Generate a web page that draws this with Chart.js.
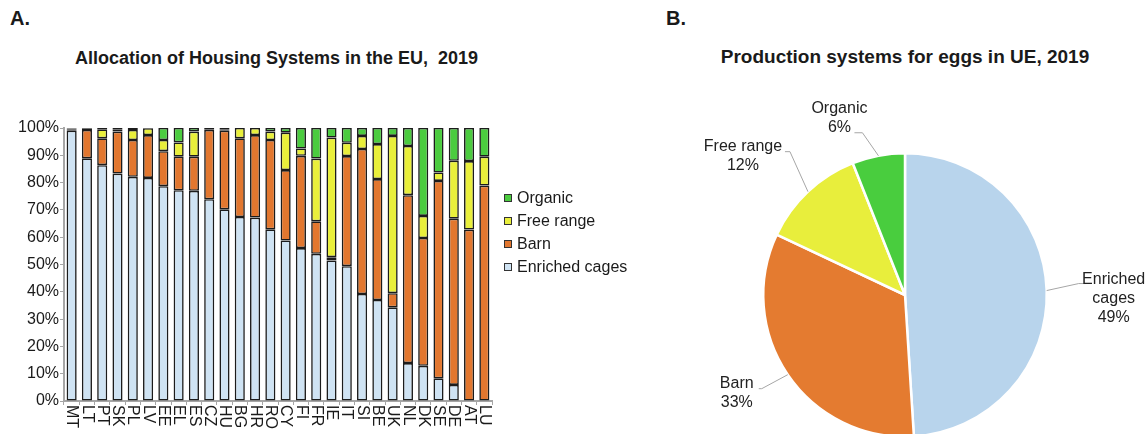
<!DOCTYPE html>
<html>
<head>
<meta charset="utf-8">
<script src="https://cdn.jsdelivr.net/npm/chart.js@4.4.0/dist/chart.umd.min.js"></script>
<style>
  body { margin: 0; width: 1148px; height: 434px; overflow: hidden; background: #fff;
         font-family: "Liberation Sans", Arial, sans-serif; color: #1a1a1a; position: relative; }
  .abs { position: absolute; }
  .panel { font-size: 20px; font-weight: bold; line-height: 20px; }
  .title { font-size: 18px; font-weight: bold; line-height: 18px; text-align: center; white-space: nowrap; }
  #legend { left: 504px; top: 186px; font-size: 16px; }
  #legend .item { height: 23px; display: flex; align-items: center; }
  #legend .box { width: 6px; height: 6px; border: 1px solid #333; margin-right: 5px; }
</style>
</head>
<body>
<div class="abs panel" style="left:10px;top:8px">A.</div>
<div class="abs panel" style="left:666px;top:8px">B.</div>
<div class="abs title" style="left:75px;top:49px;width:400px">Allocation of Housing Systems in the EU,&nbsp; 2019</div>
<div class="abs title" style="left:705px;top:48px;width:400px;font-size:19px">Production systems for eggs in UE, 2019</div>

<div class="abs" style="left:0;top:0;width:660px;height:434px"><canvas id="bars"></canvas></div>
<div class="abs" id="legend"></div>
<div class="abs" style="left:660px;top:0;width:488px;height:500px"><canvas id="pie"></canvas></div>

<script>
// bar chart data (% of laying hens per housing system, 2019)
const countries = ['MT','LT','PT','SK','PL','LV','EE','EL','ES','CZ','HU','BG','HR','RO',
                   'CY','FI','FR','IE','IT','SI','BE','UK','NL','DK','SE','DE','AT','LU'];
const enrichedCages = [99.0, 88.9, 86.4, 83.3, 82.1, 81.7, 78.7, 77.2, 77.0, 73.9, 70.2, 67.4, 67.2, 62.9,
                       58.8, 56.0, 53.9, 51.5, 49.4, 39.2, 37.0, 34.3, 13.9, 12.9, 8.3, 5.9, 0, 0];
const barn = [0.5, 10.4, 9.8, 15.4, 13.5, 15.7, 12.8, 12.3, 12.5, 25.4, 28.8, 28.8, 30.2, 32.7,
              25.8, 33.8, 11.9, 1.2, 40.3, 53.1, 44.3, 5.2, 61.5, 46.8, 72.3, 60.9, 62.8, 78.9];
const freeRange = [0.3, 0.4, 3.3, 0.8, 3.7, 2.5, 4.1, 5.2, 9.2, 0.2, 0.5, 3.8, 2.6, 3.1,
                   13.7, 2.7, 23.0, 43.8, 4.9, 4.8, 12.8, 57.6, 18.0, 8.1, 3.1, 21.2, 25.1, 10.6];
const organic = [0.2, 0.3, 0.5, 0.5, 0.7, 0.1, 4.4, 5.3, 1.3, 0.5, 0.5, 0, 0, 1.3,
                 1.7, 7.5, 11.2, 3.5, 5.4, 2.9, 5.9, 2.9, 6.6, 32.2, 16.3, 12.0, 12.1, 10.5];
const yTicks = [0, 10, 20, 30, 40, 50, 60, 70, 80, 90, 100];

// pie data
const pieLabels = ['Enriched cages', 'Barn', 'Free range', 'Organic'];
const pieShares = [49, 33, 12, 6];

const FONT = '"Liberation Sans", Arial, sans-serif';
const colors = {
  enriched: '#cfe3f3', barn: '#e2772f', free: '#e9ef3b', organic: '#4bcc3f'
};
const pieColors = ['#b8d4ec', '#e47b30', '#e8ee3c', '#49cd3e'];

// where each pie label sits, relative to the middle of its arc edge
const pieLabelLayout = [
  { wrap: true,  dx: 67,  dy: 8,   elbow: [32, -7],   tail: 7 },
  { wrap: false, dx: -51, dy: 18,  elbow: [-26, 14],  tail: -3 },
  { wrap: false, dx: -65, dy: -36, elbow: [-18, -40], tail: -5 },
  { wrap: false, dx: -39, dy: -38, elbow: [-16, -23], tail: -8 }
];

// x labels rotated clockwise (read top to bottom)
const xLabelPlugin = {
  id: 'xLabelsDown',
  afterDraw(chart) {
    const xs = chart.scales.x;
    const ctx = chart.ctx;
    ctx.save();
    ctx.font = '16px ' + FONT;
    ctx.fillStyle = '#1a1a1a';
    ctx.textAlign = 'left';
    ctx.textBaseline = 'middle';
    chart.data.labels.forEach((lbl, i) => {
      ctx.save();
      ctx.translate(xs.getPixelForValue(i), xs.top + 4);
      ctx.rotate(Math.PI / 2);
      ctx.fillText(lbl, 0, 0);
      ctx.restore();
    });
    ctx.restore();
  }
};

function ds(label, data, color) {
  return {
    label, data, backgroundColor: color,
    borderColor: '#1c1c1c', borderWidth: 1.6, borderSkipped: false,
    categoryPercentage: 1, barPercentage: 0.66
  };
}

const barChart = new Chart(document.getElementById('bars'), {
  type: 'bar',
  data: {
    labels: countries,
    datasets: [
      ds('Enriched cages', enrichedCages, colors.enriched),
      ds('Barn', barn, colors.barn),
      ds('Free range', freeRange, colors.free),
      ds('Organic', organic, colors.organic)
    ]
  },
  options: {
    responsive: true,
    maintainAspectRatio: false,
    animation: false,
    layout: { padding: { top: 128, bottom: 29, left: 0, right: 168 } },
    plugins: { legend: { display: false }, tooltip: { enabled: false } },
    scales: {
      x: {
        stacked: true,
        ticks: { display: false },
        grid: { drawOnChartArea: false, tickLength: 4, color: '#a6a6a6', offset: true },
        border: { color: '#a6a6a6', width: 2 }
      },
      y: {
        stacked: true,
        min: 0, max: 100,
        afterBuildTicks(s) { s.ticks = yTicks.map(v => ({ value: v })); },
        afterFit(s) { s.width = 64; },
        ticks: { padding: 1, color: '#1a1a1a', font: { size: 16, family: FONT }, callback: v => v + '%' },
        grid: { drawOnChartArea: false, tickLength: 4, color: '#a6a6a6' },
        border: { color: '#a6a6a6', width: 2 }
      }
    }
  },
  plugins: [xLabelPlugin]
});

// html legend built from the datasets, top item = last stacked series
const legendEl = document.getElementById('legend');
barChart.data.datasets.slice().reverse().forEach(d => {
  const row = document.createElement('div');
  row.className = 'item';
  const box = document.createElement('span');
  box.className = 'box';
  box.style.background = d.backgroundColor;
  row.appendChild(box);
  row.appendChild(document.createTextNode(d.label));
  legendEl.appendChild(row);
});

const pieLabelPlugin = {
  id: 'pieLabels',
  afterDatasetsDraw(chart) {
    const ctx = chart.ctx;
    const meta = chart.getDatasetMeta(0);
    ctx.save();
    ctx.font = '16px ' + FONT;
    ctx.textAlign = 'center';
    ctx.textBaseline = 'middle';
    ctx.fillStyle = '#222';
    meta.data.forEach((arc, i) => {
      const p = arc.getProps(['x', 'y', 'startAngle', 'endAngle', 'outerRadius']);
      const mid = (p.startAngle + p.endAngle) / 2;
      const ex = p.x + Math.cos(mid) * p.outerRadius;
      const ey = p.y + Math.sin(mid) * p.outerRadius;
      const lay = pieLabelLayout[i];
      ctx.strokeStyle = '#a6a6a6';
      ctx.lineWidth = 1;
      ctx.beginPath();
      ctx.moveTo(ex, ey);
      ctx.lineTo(ex + lay.elbow[0], ey + lay.elbow[1]);
      ctx.lineTo(ex + lay.elbow[0] + lay.tail, ey + lay.elbow[1]);
      ctx.stroke();
      const name = chart.data.labels[i];
      const lines = lay.wrap ? name.split(' ') : [name];
      lines.push(chart.data.datasets[0].data[i] + '%');
      const cx = ex + lay.dx, cy = ey + lay.dy;
      lines.forEach((t, j) => ctx.fillText(t, cx, cy + (j - (lines.length - 1) / 2) * 19));
    });
    ctx.restore();
  }
};

new Chart(document.getElementById('pie'), {
  type: 'pie',
  data: {
    labels: pieLabels,
    datasets: [{ data: pieShares, backgroundColor: pieColors, borderColor: '#ffffff', borderWidth: 2.5 }]
  },
  options: {
    responsive: true,
    maintainAspectRatio: false,
    animation: false,
    layout: { padding: { top: 152, bottom: 62, left: 102, right: 100 } },
    plugins: { legend: { display: false }, tooltip: { enabled: false } }
  },
  plugins: [pieLabelPlugin]
});
</script>
</body>
</html>
